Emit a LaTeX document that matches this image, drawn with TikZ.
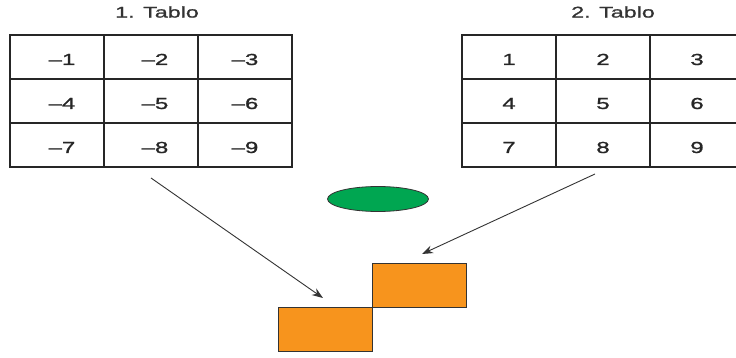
\documentclass[tikz,border=0pt]{standalone}
\usepackage{fontspec}
\setmainfont{Liberation Sans}[FakeStretch=1.5,FakeBold=1.2]
\usetikzlibrary{arrows.meta}
\definecolor{tgreen}{RGB}{0,166,81}
\definecolor{torange}{RGB}{247,148,29}
\tikzset{
  cell/.style={draw=black!85, line width=1.5pt, minimum width=94pt, minimum height=44pt, inner sep=0pt, text height=16pt, text depth=0pt, font=\fontsize{16}{18}\selectfont, text=black!85},
  title/.style={font=\fontsize{15.5}{18}\selectfont, text=black!80},
  conn/.style={line width=0.9pt, black!80, -{Stealth[length=11pt,width=8pt]}},
  block/.style={draw=black!80, line width=0.8pt, fill=torange, minimum width=94pt, minimum height=44pt, inner sep=0pt},
}
\begin{document}
\begin{tikzpicture}[x=1pt,y=-1pt]
\useasboundingbox (0,0) rectangle (736,358);
\clip (0,0) rectangle (736,358);
\node[title] (t1) at (157,12) {1. Tablo};
\node[title] (t2) at (613,12) {2. Tablo};
% table 1
\node[cell] (a11) at (57,57) {\hspace{10pt}–1};
\node[cell] (a12) at (151,57) {\hspace{8pt}–2};
\node[cell] (a13) at (245,57) {–3};
\node[cell] (a21) at (57,101) {\hspace{10pt}–4};
\node[cell] (a22) at (151,101) {\hspace{8pt}–5};
\node[cell] (a23) at (245,101) {–6};
\node[cell] (a31) at (57,145) {\hspace{10pt}–7};
\node[cell] (a32) at (151,145) {\hspace{8pt}–8};
\node[cell] (a33) at (245,145) {–9};
% table 2
\node[cell] (b11) at (509,57) {1};
\node[cell] (b12) at (603,57) {2};
\node[cell] (b13) at (697,57) {3};
\node[cell] (b21) at (509,101) {4};
\node[cell] (b22) at (603,101) {5};
\node[cell] (b23) at (697,101) {6};
\node[cell] (b31) at (509,145) {7};
\node[cell] (b32) at (603,145) {8};
\node[cell] (b33) at (697,145) {9};
% ellipse
\draw[fill=tgreen, draw=black!80, line width=0.8pt] (378,199) ellipse (50.5pt and 12.5pt);
% blocks
\node[block] (r1) at (325,329) {};
\node[block] (r2) at (419,285) {};
% arrows
\coordinate (s1) at (151,178);
\coordinate (e1) at (323,298);
\coordinate (s2) at (595,174);
\coordinate (e2) at (422,254);
\draw[conn] (s1) -- (e1);
\draw[conn] (s2) -- (e2);
\end{tikzpicture}
\end{document}
